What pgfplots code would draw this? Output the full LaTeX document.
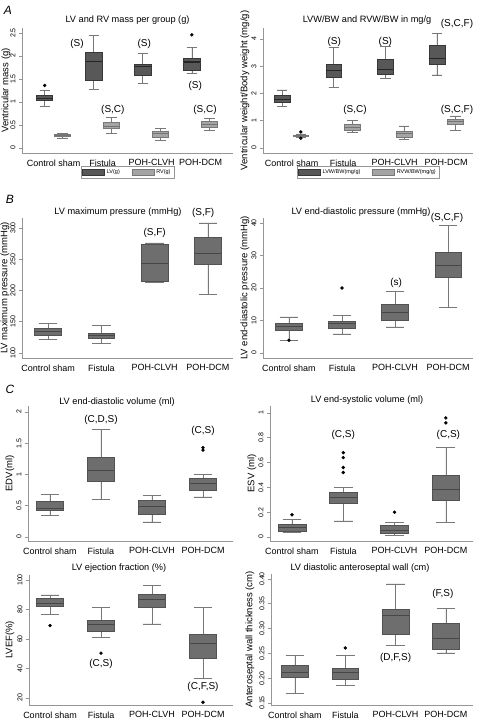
\documentclass[border=0pt]{standalone}
\usepackage{fontspec}
\setmainfont{Liberation Sans}
\usepackage{pgfplots}
\pgfplotsset{compat=1.18}
\usepgfplotslibrary{statistics}
\definecolor{lvfill}{RGB}{88,88,88}
\definecolor{lvdraw}{RGB}{55,55,55}
\definecolor{rvfill}{RGB}{165,165,165}
\definecolor{rvdraw}{RGB}{120,120,120}
\definecolor{bxfill}{RGB}{110,110,110}
\definecolor{bxdraw}{RGB}{82,82,82}
\definecolor{axgray}{RGB}{150,150,150}
\definecolor{wgray}{RGB}{120,120,120}
\newcommand{\fs}[1]{\fontsize{#1}{#1}\selectfont}
\pgfplotsset{
  stata/.style={
    scale only axis, clip=false,
    boxplot/draw direction=y,
    axis x line*=bottom, axis y line*=left,
    axis line style={draw=axgray, line width=0.6pt},
    tick align=outside, major tick length=3pt,
    major x tick style={draw=none},
    major y tick style={draw=axgray, line width=0.6pt},
    xtick={1,2,3,4},
    xticklabels={Control sham, Fistula, POH-CLVH, POH-DCM},
    x tick label style={font=\fs{9}},
    y tick label style={rotate=90, anchor=south, font=\fs{7}, /pgf/number format/assume math mode=true},
    every axis title/.style={at={(axis description cs:0.5,1)}, anchor=center, font=\fs{9.2}},
    every axis y label/.style={at={(axis description cs:-0.08,0.5)}, anchor=center, rotate=90, font=\fs{9.5}},
    every node/.append style={font=\fs{9}},
  },
  bx/.style n args={6}{boxplot prepared={lower whisker=#1, lower quartile=#2, median=#3, upper quartile=#4, upper whisker=#5, draw position=#6}},
  outl/.style={mark=*, mark size=1.4pt, mark options={solid, fill=black, draw=black}},
  lv/.style={outl, draw=lvdraw, fill=lvfill, line width=0.6pt,
    boxplot/every box/.style={draw=lvdraw, fill=lvfill},
    boxplot/every median/.style={draw=black!85, line width=1.1pt},
    boxplot/every whisker/.style={draw=wgray}},
  rv/.style={outl, draw=rvdraw, fill=rvfill, line width=0.6pt,
    boxplot/every box/.style={draw=rvdraw, fill=rvfill},
    boxplot/every median/.style={draw=black!55, line width=1.1pt},
    boxplot/every whisker/.style={draw=rvdraw}},
  sb/.style={outl, draw=bxdraw, fill=bxfill, line width=0.6pt,
    boxplot/every box/.style={draw=bxdraw, fill=bxfill},
    boxplot/every median/.style={draw=black!72, line width=1pt},
    boxplot/every whisker/.style={draw=wgray}},
  leg/.style={legend style={at={(0.5,-0.152)}, anchor=center, legend columns=2, draw=axgray, fill=white,
      font=\fs{5.5}, inner sep=1.5pt, /tikz/every even column/.append style={column sep=10pt}},
    legend image code/.code={\draw[##1] (0pt,-3pt) rectangle (22pt,3pt);}},
}
\begin{document}
\begin{tikzpicture}
\useasboundingbox (0,0) rectangle (480pt,724pt);
% ---------------- A left
\begin{axis}[stata, leg, at={(22pt,571pt)}, anchor=south west, width=211pt, height=125pt,
  xmin=0.357, xmax=4.66, ymin=-0.109, ymax=2.609, ytick={0,0.5,1,1.5,2,2.5},
  boxplot/box extend=0.33, boxplot/whisker extend=0.21,
  title={LV and RV mass per group (g)}, title style={yshift=8pt},
  ylabel={Ventricular mass (g)}, ylabel style={at={(axis description cs:-0.076,0.5)}}]
\addlegendimage{draw=lvdraw, fill=lvfill}\addlegendentry{LV(g)}
\addlegendimage{draw=rvdraw, fill=rvfill}\addlegendentry{RV(g)}
\addplot[lv, bx={0.91}{1.03}{1.08}{1.14}{1.26}{0.82}] coordinates {(0,1.36)};
\addplot[rv, bx={0.22}{0.255}{0.28}{0.295}{0.31}{1.18}] coordinates {};
\addplot[lv, bx={1.28}{1.47}{1.88}{2.08}{2.44}{1.82}] coordinates {};
\addplot[rv, bx={0.31}{0.42}{0.47}{0.55}{0.66}{2.18}] coordinates {};
\addplot[lv, bx={1.41}{1.57}{1.77}{1.83}{2.05}{2.82}] coordinates {};
\addplot[rv, bx={0.17}{0.24}{0.31}{0.36}{0.42}{3.18}] coordinates {};
\addplot[lv, bx={1.62}{1.68}{1.87}{1.95}{2.19}{3.82}] coordinates {(0,2.46)};
\addplot[rv, bx={0.39}{0.44}{0.51}{0.58}{0.64}{4.18}] coordinates {};
\node at (axis cs:1.48,2.26) {(S)};
\node at (axis cs:2.85,2.26) {(S)};
\node at (axis cs:3.89,1.35) {(S)};
\node at (axis cs:2.21,0.82) {(S,C)};
\node at (axis cs:4.09,0.82) {(S,C)};
\end{axis}
% ---------------- A right
\begin{axis}[stata, leg, at={(263pt,571pt)}, anchor=south west, width=210pt, height=125pt,
  xmin=0.447, xmax=4.52, ymin=-0.183, ymax=4.404, ytick={0,1,2,3,4},
  boxplot/box extend=0.31, boxplot/whisker extend=0.2,
  title={LVW/BW and RVW/BW in mg/g}, title style={yshift=8pt, xshift=-1pt},
  ylabel={Ventricular weight/Body weight (mg/g)}, ylabel style={at={(axis description cs:-0.086,0.5)}}]
\addlegendimage{draw=lvdraw, fill=lvfill}\addlegendentry{LVW/BW(mg/g)}
\addlegendimage{draw=rvdraw, fill=rvfill}\addlegendentry{RVW/BW(mg/g)}
\addplot[lv, bx={1.54}{1.66}{1.78}{1.94}{2.13}{0.82}] coordinates {};
\addplot[rv, bx={0.40}{0.44}{0.46}{0.48}{0.52}{1.18}] coordinates {(0,0.59) (0,0.36)};
\addplot[lv, bx={2.23}{2.60}{2.83}{3.09}{3.70}{1.82}] coordinates {};
\addplot[rv, bx={0.57}{0.65}{0.76}{0.86}{1.02}{2.18}] coordinates {};
\addplot[lv, bx={2.54}{2.72}{2.89}{3.24}{3.73}{2.82}] coordinates {};
\addplot[rv, bx={0.32}{0.41}{0.53}{0.63}{0.81}{3.18}] coordinates {};
\addplot[lv, bx={2.68}{3.06}{3.30}{3.77}{4.20}{3.82}] coordinates {};
\addplot[rv, bx={0.65}{0.86}{0.96}{1.05}{1.18}{4.18}] coordinates {};
\node at (axis cs:1.83,3.91) {(S)};
\node at (axis cs:2.82,3.91) {(S)};
\node at (axis cs:4.21,4.57) {(S,C,F)};
\node at (axis cs:2.23,1.39) {(S,C)};
\node at (axis cs:4.21,1.39) {(S,C,F)};
\end{axis}
% ---------------- B left
\begin{axis}[stata, at={(22pt,366pt)}, anchor=south west, width=211pt, height=140pt,
  xmin=0.512, xmax=4.47, ymin=92, ymax=316, ytick={100,150,200,250,300},
  boxplot/box extend=0.5, boxplot/whisker extend=0.35,
  title={LV maximum pressure (mmHg)}, title style={yshift=6pt, xshift=-9.5pt},
  ylabel={LV maximum pressure (mmHg)}, ylabel style={at={(axis description cs:-0.081,0.5)}}]
\addplot[sb, bx={121.3}{128.3}{134.7}{138.9}{146.9}{1}] coordinates {};
\addplot[sb, bx={114.9}{122.9}{128.3}{132.0}{143.7}{2}] coordinates {};
\addplot[sb, bx={213.0}{214.7}{242.4}{273.3}{276.0}{3}] coordinates {};
\addplot[sb, bx={193.3}{241.3}{258.4}{285.0}{308.0}{4}] coordinates {};
\node at (axis cs:3,292) {(S,F)};
\node at (axis cs:3.91,324) {(S,F)};
\end{axis}
% ---------------- B right
\begin{axis}[stata, at={(263pt,366pt)}, anchor=south west, width=210pt, height=140pt,
  xmin=0.51, xmax=4.47, ymin=-1.54, ymax=41.54, ytick={0,10,20,30,40},
  boxplot/box extend=0.5, boxplot/whisker extend=0.35,
  title={LV end-diastolic pressure (mmHg)}, title style={yshift=6pt, xshift=-7pt},
  ylabel={LV end-diastolic pressure (mmHg)}, ylabel style={at={(axis description cs:-0.086,0.5)}}]
\addplot[sb, bx={3.9}{7.0}{8.0}{9.0}{11.1}{1}] coordinates {(0,3.9)};
\addplot[sb, bx={5.9}{7.7}{9.0}{9.9}{11.6}{2}] coordinates {(0,20.0)};
\addplot[sb, bx={8.0}{10.1}{12.6}{14.9}{19.0}{3}] coordinates {};
\addplot[sb, bx={14.1}{23.3}{27.0}{31.0}{39.3}{4}] coordinates {};
\node at (axis cs:3.02,21.7) {(s)};
\node at (axis cs:3.98,41.7) {(S,C,F)};
\end{axis}
% ---------------- C1 left
\begin{axis}[stata, at={(28pt,183pt)}, anchor=south west, width=205pt, height=135pt,
  xmin=0.569, xmax=4.588, ymin=-0.064, ymax=2.096, ytick={0,0.5,1,1.5,2},
  boxplot/box extend=0.52, boxplot/whisker extend=0.36,
  title={LV end-diastolic volume (ml)}, title style={yshift=4pt, xshift=-13.5pt},
  ylabel={EDV(ml)}, ylabel style={at={(axis description cs:-0.088,0.5)}}]
\addplot[sb, bx={0.35}{0.42}{0.46}{0.57}{0.68}{1}] coordinates {};
\addplot[sb, bx={0.60}{0.89}{1.06}{1.27}{1.72}{2}] coordinates {};
\addplot[sb, bx={0.24}{0.36}{0.49}{0.58}{0.66}{3}] coordinates {};
\addplot[sb, bx={0.64}{0.74}{0.85}{0.94}{1.00}{4}] coordinates {(0,1.43) (0,1.39)};
\node at (axis cs:2,1.88) {(C,D,S)};
\node at (axis cs:4,1.70) {(C,S)};
\end{axis}
% ---------------- C1 right
\begin{axis}[stata, at={(270pt,183pt)}, anchor=south west, width=203pt, height=135pt,
  xmin=0.571, xmax=4.53, ymin=-0.032, ymax=1.056, ytick={0,0.2,0.4,0.6,0.8,1},
  boxplot/box extend=0.54, boxplot/whisker extend=0.37,
  title={LV end-systolic volume (ml)}, title style={yshift=6pt, xshift=-4.5pt},
  ylabel={ESV (ml)}, ylabel style={at={(axis description cs:-0.089,0.5)}}]
\addplot[sb, bx={0.04}{0.046}{0.073}{0.10}{0.14}{1}] coordinates {(0,0.18)};
\addplot[sb, bx={0.13}{0.27}{0.32}{0.36}{0.40}{2}] coordinates {(0,0.68) (0,0.64) (0,0.56) (0,0.52)};
\addplot[sb, bx={0.013}{0.032}{0.054}{0.094}{0.12}{3}] coordinates {(0,0.20)};
\addplot[sb, bx={0.12}{0.30}{0.38}{0.50}{0.72}{4}] coordinates {(0,0.96) (0,0.92)};
\node at (axis cs:2,0.825) {(C,S)};
\node at (axis cs:4.05,0.825) {(C,S)};
\end{axis}
% ---------------- C2 left
\begin{axis}[stata, at={(29pt,19pt)}, anchor=south west, width=204pt, height=130pt,
  xmin=0.588, xmax=4.588, ymin=15.25, ymax=103.4, ytick={20,40,60,80,100},
  boxplot/box extend=0.52, boxplot/whisker extend=0.36,
  title={LV ejection fraction (\%)}, title style={yshift=7pt, xshift=-12pt},
  ylabel={LVEF(\%)}, ylabel style={at={(axis description cs:-0.093,0.5)}}]
\addplot[sb, bx={76.8}{82.4}{84.2}{87.6}{89.9}{1}] coordinates {(0,69.1)};
\addplot[sb, bx={61.0}{65.1}{69.6}{73.0}{81.4}{2}] coordinates {(0,50.4)};
\addplot[sb, bx={70.3}{81.3}{86.5}{90.5}{96.2}{3}] coordinates {};
\addplot[sb, bx={33.1}{46.6}{57.2}{63.3}{81.3}{4}] coordinates {(0,17.1)};
\node at (axis cs:2,43.2) {(C,S)};
\node at (axis cs:4,27.4) {(C,F,S)};
\end{axis}
% ---------------- C2 right
\begin{axis}[stata, at={(271pt,19pt)}, anchor=south west, width=202pt, height=131pt,
  xmin=0.523, xmax=4.54, ymin=0.146, ymax=0.41, ytick={0.15,0.2,0.25,0.3,0.35,0.4},
  yticklabel style={/pgf/number format/.cd, fixed, fixed zerofill, precision=2},
  boxplot/box extend=0.53, boxplot/whisker extend=0.37,
  title={LV diastolic anteroseptal wall (cm)}, title style={yshift=6pt, xshift=-12pt},
  ylabel={Anteroseptal wall thickness (cm)}, ylabel style={at={(axis description cs:-0.104,0.5)}}]
\addplot[sb, bx={0.170}{0.2018}{0.2105}{0.226}{0.2454}{1}] coordinates {};
\addplot[sb, bx={0.1856}{0.1984}{0.2105}{0.2206}{0.2454}{2}] coordinates {(0,0.261)};
\addplot[sb, bx={0.2663}{0.289}{0.326}{0.3395}{0.390}{3}] coordinates {};
\addplot[sb, bx={0.2508}{0.2575}{0.2797}{0.310}{0.340}{4}] coordinates {};
\node at (axis cs:3,0.2407) {(D,F,S)};
\node at (axis cs:3.94,0.370) {(F,S)};
\end{axis}
\node[font=\fs{12}\itshape] at (8pt,714pt) {A};
\node[font=\fs{12}\itshape] at (10pt,525pt) {B};
\node[font=\fs{12}\itshape] at (10pt,335pt) {C};
\end{tikzpicture}
\end{document}
